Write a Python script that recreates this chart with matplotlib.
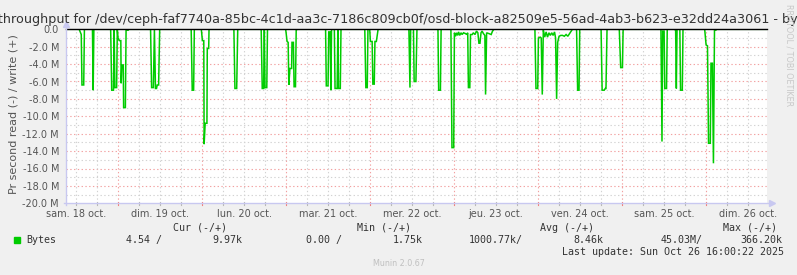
import matplotlib
matplotlib.use("Agg")
import matplotlib.pyplot as plt
from matplotlib.lines import Line2D
from matplotlib.patches import Rectangle

# ---------------- data ----------------
# time in hours since sam. 18 oct. 00:00, values in M bytes/s (read, drawn negative)
read_t = [9.14,
          12.9, 13.2, 13.5, 13.7, 14.2, 14.4,
          16.7, 16.9, 17.1,
          21.9, 22.2, 22.7, 22.9, 23.1, 23.6, 23.8, 24.0, 24.4, 24.8, 24.9, 25.1, 25.5, 25.6, 26.1, 26.3, 26.9, 27.0,
          33.3, 33.6, 34.1, 34.4, 34.7, 35.0, 35.2, 35.6, 35.9,
          44.9, 45.2, 45.6, 45.8,
          47.8, 48.1, 48.5, 48.6, 48.9, 49.4, 49.5, 49.9, 50.0, 50.6,
          57.1, 57.4, 57.9, 58.2,
          64.9, 65.2, 65.6, 65.8, 66.0, 66.5, 66.7,
          71.9, 72.3, 72.6, 72.8, 73.1, 73.6, 73.7, 74.1, 74.3, 74.7, 74.9, 75.2,
          83.3, 83.5, 84.0, 84.2, 84.6, 84.8, 85.0, 85.8, 86.0, 86.6, 86.8, 87.0, 87.5, 87.7,
          94.5, 94.8, 95.2, 95.4, 95.9, 96.1, 96.6, 96.8, 97.2, 97.4, 97.8, 98.3,
          107.1, 107.4, 107.6, 108.4, 108.6, 109.1, 109.4,
          115.4, 115.6, 116.1, 116.3,
          119.1, 119.4, 119.9, 120.1, 120.4, 120.7, 121.0, 121.3, 121.6, 122.0, 122.3, 122.7, 123.3,
          123.6, 123.9, 124.1, 124.5, 124.7, 125.2, 125.5, 126.0, 126.4, 126.8, 127.1, 127.4, 127.7,
          128.0, 128.4, 128.8, 129.0, 129.3, 130.0, 130.6, 131.0, 131.4,
          143.1, 143.4, 143.9, 144.1, 144.6, 144.9, 145.2, 145.5, 145.9, 146.3, 146.7, 147.1, 147.5,
          147.9, 148.3, 148.7, 149.0, 149.3, 149.6, 150.0, 150.5, 151.0, 151.5, 152.0, 152.5, 153.0,
          153.5, 153.8,
          155.0, 155.3, 155.7, 155.9,
          162.0, 162.3, 162.9, 163.2, 163.4, 163.7,
          167.2, 167.6, 168.1, 168.3,
          179.1, 179.4, 179.6, 180.0, 180.2, 180.7, 180.9,
          182.9, 183.3, 183.5, 183.7, 184.5, 184.7, 185.2, 185.4,
          191.6, 192.0, 192.4, 192.7, 193.2, 193.4, 193.8, 194.1, 194.4, 194.8, 195.0,
          209.4]
read_v = [0.0,
          0.0, -0.3, -0.6, -6.4, -6.4, 0.0,
          0.0, -7.0, 0.0,
          0.0, -7.0, -7.0, 0.0, -6.7, -6.7, 0.0, -1.0, -1.3, -1.3, -6.2, -4.1, -4.1, -9.0, -9.0, -0.1, -0.1, 0.0,
          0.0, -6.7, -6.7, 0.0, -6.8, -6.8, -6.4, -6.4, 0.0,
          0.0, -7.0, -7.0, 0.0,
          0.0, -1.3, -1.3, -13.2, -10.8, -10.8, -2.2, -2.2, 0.0, 0.0,
          0.0, -6.8, -6.8, 0.0,
          0.0, -6.8, -6.8, 0.0, -6.7, -6.7, 0.0,
          0.0, -1.4, -1.5, -6.4, -4.5, -4.5, -1.5, -1.5, -6.6, -6.6, -0.1, 0.0,
          0.0, -6.5, -6.5, -0.3, -0.3, -7.0, 0.0, 0.0, -6.8, -6.8, 0.0, -6.8, -6.8, 0.0,
          0.0, -6.7, -6.7, 0.0, 0.0, -1.4, -1.4, -6.3, -6.3, -1.4, -1.4, 0.0,
          0.0, -6.7, 0.0, 0.0, -6.0, -6.0, 0.0,
          0.0, -7.0, -7.0, 0.0,
          0.0, -13.6, -13.6, -0.4, -0.8, -0.4, -0.7, -0.3, -0.7, -0.4, -0.6, -0.4, -0.5,
          -0.6, -0.4, -6.7, -6.7, -0.6, -0.6, -0.4, -0.6, -0.2, -0.4, -1.6, -1.6, -0.4,
          -0.2, -0.5, -0.7, -7.5, -0.4, -0.5, -0.6, -0.2, 0.0,
          0.0, -6.8, -6.8, -1.0, -0.9, -1.0, -7.5, -0.1, -0.9, -0.3, -0.9, -0.4, -0.7,
          -0.4, -0.7, -0.3, -1.0, -8.0, -1.5, -0.8, -0.7, -0.7, -0.8, -0.6, -0.8, -0.5,
          -0.2, 0.0,
          0.0, -7.0, -7.0, 0.0,
          0.0, -7.0, -7.0, -6.8, -6.8, 0.0,
          0.0, -4.4, -4.4, 0.0,
          0.0, -12.9, -0.2, -0.2, -6.8, -6.8, 0.0,
          0.0, -0.1, -6.8, 0.0, 0.0, -7.0, -7.0, 0.0,
          0.0, -1.8, -1.9, -13.1, -13.1, -3.9, -3.9, -15.4, -0.1, -0.1, 0.0,
          0.0]

day_labels = ["sam. 18 oct.", "dim. 19 oct.", "lun. 20 oct.", "mar. 21 oct.", "mer. 22 oct.",
              "jeu. 23 oct.", "ven. 24 oct.", "sam. 25 oct.", "dim. 26 oct."]
y_ticks = [0, -2, -4, -6, -8, -10, -12, -14, -16, -18, -20]
y_labels = ["0.0", "-2.0 M", "-4.0 M", "-6.0 M", "-8.0 M", "-10.0 M", "-12.0 M",
            "-14.0 M", "-16.0 M", "-18.0 M", "-20.0 M"]

title = ("IO throughput for /dev/ceph-faf7740a-85bc-4c1d-aa3c-7186c809cb0f/"
         "osd-block-a82509e5-56ad-4ab3-b623-e32dd24a3061 - bytes")
legend_headers = ["Cur (-/+)", "Min (-/+)", "Avg (-/+)", "Max (-/+)"]
legend_values = ["4.54 /", "9.97k", "0.00 /", "1.75k", "1000.77k/", "8.46k", "45.03M/", "366.20k"]

# ---------------- layout ----------------
W, H = 797, 275
BG = "#f0f0f0"
fig = plt.figure(figsize=(W / 100, H / 100), dpi=100, facecolor=BG)

def fx(px):
    return px / W

def fy(py):
    return 1 - py / H

x0, x1 = 66, 767
ytop, ybot = 29.3, 203.3
ax = fig.add_axes([fx(x0), fy(ybot), fx(x1) - fx(x0), fy(ytop) - fy(ybot)])
ax.set_facecolor("white")
t_min, t_max = 9.14, 209.4
ax.set_xlim(t_min, t_max)
ax.set_ylim(-20, 0)
for s in ax.spines.values():
    s.set_visible(False)

minor_c = "#d2d2d2"
major_c = "#f2a0a0"
dots = (0, (1.2, 2.2))
for v in range(-19, 0):
    c = major_c if v % 2 == 0 else minor_c
    ax.axhline(v, color=c, lw=0.8, ls=dots, zorder=1)
for h in range(12, 210, 6):
    c = major_c if h % 24 == 0 else minor_c
    ax.axvline(h, color=c, lw=0.8, ls=dots, zorder=1)

ax.plot(read_t, read_v, color="#00cc00", lw=1.1, zorder=3, solid_joinstyle="miter")
ax.axhline(0, color="black", lw=1.0, zorder=4, clip_on=False)

# ticks
ax.set_yticks(y_ticks)
ax.set_yticklabels(y_labels)
ax.tick_params(axis="y", length=0, pad=5, labelsize=7, labelcolor="#555555")
ax.set_xticks([12 + 24 * i for i in range(len(day_labels))])
ax.set_xticklabels(day_labels)
ax.tick_params(axis="x", length=0, pad=4, labelsize=7, labelcolor="#555555")

# small tick marks on the x axis
for h in range(12, 210, 6):
    c = "#f08080" if h % 24 == 0 else "#b8b8b8"
    xp = x0 + (h - t_min) / (t_max - t_min) * (x1 - x0)
    fig.add_artist(Line2D([fx(xp), fx(xp)], [fy(ybot - 1), fy(ybot + 2)], color=c, lw=0.8))

# axis lines with arrows
axc = "#c8c8f0"
fig.add_artist(Line2D([fx(x0), fx(x0)], [fy(ybot + 2), fy(ytop - 4)], color=axc, lw=1))
fig.add_artist(Line2D([fx(x0 - 2), fx(x1 + 4)], [fy(ybot), fy(ybot)], color=axc, lw=1))
fig.add_artist(Line2D([fx(x0)], [fy(ytop - 5)], marker="^", ms=4, color=axc, mec=axc))
fig.add_artist(Line2D([fx(x1 + 5)], [fy(ybot)], marker=">", ms=4, color=axc, mec=axc))

# title and labels
fig.text(0.5, fy(22.7), title, ha="center", va="baseline", fontsize=9.15, color="#333333")
fig.text(fx(14), fy(114), "Pr second read (-) / write (+)", rotation=90, ha="center",
         va="center", fontsize=8, color="#555555")
fig.text(fx(789.5), fy(4), "RRDTOOL / TOBI OETIKER", rotation=270, ha="center", va="top",
         fontsize=5.8, color="#c8c8c8")

# legend
mono = dict(family="DejaVu Sans Mono", fontsize=7.2, color="#333333", va="center")
for txt, xp in zip(legend_headers, [173, 357, 540, 722.7]):
    fig.text(fx(xp), fy(227.7), txt, **mono)
fig.add_artist(Rectangle((fx(14), fy(243)), fx(6), 6 / H, color="#00cc00"))
fig.text(fx(26.3), fy(240), "Bytes", **mono)
for txt, xp in zip(legend_values, [126, 212, 306, 393, 469, 573, 661, 740.7]):
    fig.text(fx(xp), fy(240), txt, **mono)
fig.text(fx(561.7), fy(251.7), "Last update: Sun Oct 26 16:00:22 2025", **mono)
fig.text(0.5, fy(264), "Munin 2.0.67", ha="center", va="center", fontsize=5.8, color="#c0c0c0")

fig.savefig("out.png", dpi=100, facecolor=BG)
